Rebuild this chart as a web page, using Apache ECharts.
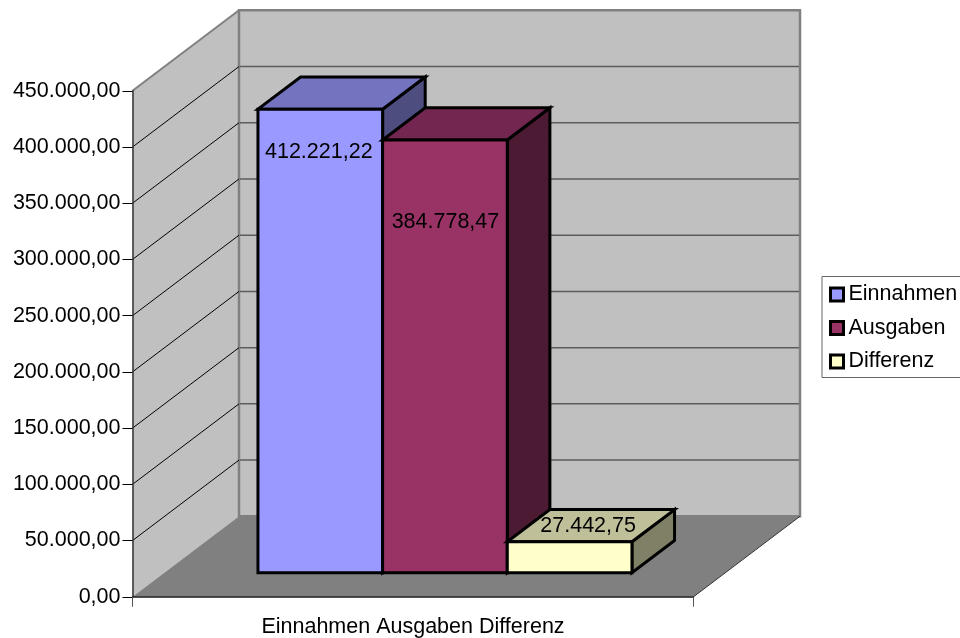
<!DOCTYPE html>
<html>
<head>
<meta charset="utf-8">
<title>Einnahmen Ausgaben Differenz</title>
<style>html,body{margin:0;padding:0;background:#fff}#chart{width:960px;height:638px}</style>
<script src="https://cdn.jsdelivr.net/npm/echarts@6/dist/echarts.min.js"></script>
</head>
<body>
<div id="chart"></div>
<script>
// Chart values
const categories = ['Einnahmen Ausgaben Differenz'];
const seriesNames = ['Einnahmen', 'Ausgaben', 'Differenz'];
const einnahmen = [412221.22];
const ausgaben = [384778.47];
const differenz = [27442.75];
const tickValues = [0, 50000, 100000, 150000, 200000, 250000, 300000, 350000, 400000, 450000];

// Oblique projection of the floor depth, in pixels for a full depth of 1
const DEPTH_X = 106.5;
const DEPTH_Y = -80.5;
const FONT = '"Liberation Sans", Arial, sans-serif';
const FONT_SIZE = 21.5;

// Faces of each box: front, top (75% brightness), side (50% brightness)
const palette = [
  { front: '#9999ff', top: '#7373bf', side: '#4d4d80' },
  { front: '#993366', top: '#732650', side: '#4d1a33' },
  { front: '#ffffcc', top: '#bfbf99', side: '#808066' }
];
// Data label placement relative to the centre of the box's front top edge
const labelOffset = [[-1.5, 42.5], [0.5, 82.5], [18.5, -15.5]];

const deNumber = v => v.toFixed(2).replace('.', ',').replace(/\B(?=(\d{3})+(?!\d))/g, '.');

// Maps (share of the category band, value, share of the depth) to pixels
function projector(api) {
  const band = api.size([1, 0])[0];
  return (u, value, d) => {
    const c = api.coord([0, value]);
    return [c[0] + (u - 0.5) * band + d * DEPTH_X, c[1] + d * DEPTH_Y];
  };
}

function renderBackdrop(params, api) {
  const p = projector(api);
  const top = tickValues[tickValues.length - 1];
  const edge = '#808080';
  const children = [
    { type: 'polygon', shape: { points: [p(0, 0, 0), p(0, top, 0), p(0, top, 1), p(0, 0, 1)] },
      style: { fill: '#c0c0c0' } },
    { type: 'polygon', shape: { points: [p(0, 0, 1), p(0, top, 1), p(1, top, 1), p(1, 0, 1)] },
      style: { fill: '#c0c0c0', stroke: edge, lineWidth: 2.5 } },
    { type: 'line', shape: { x1: p(0, top, 0)[0], y1: p(0, top, 0)[1], x2: p(0, top, 1)[0], y2: p(0, top, 1)[1] },
      style: { stroke: edge, lineWidth: 2 } }
  ];
  tickValues.slice(1, -1).forEach(v => {
    const a = p(0, v, 0), b = p(0, v, 1), c = p(1, v, 1);
    children.push(
      { type: 'line', shape: { x1: a[0], y1: a[1], x2: b[0], y2: b[1] }, style: { stroke: '#000', lineWidth: 1 } },
      { type: 'line', shape: { x1: b[0] + 1, y1: b[1], x2: c[0] - 1, y2: c[1] }, style: { stroke: '#5c5c5c', lineWidth: 1.5 } }
    );
  });
  children.push(
    { type: 'polygon', shape: { points: [p(0, 0, 0), p(1, 0, 0), p(1, 0, 1), p(0, 0, 1)] }, style: { fill: '#808080' } },
    { type: 'line', shape: { x1: p(1, 0, 0)[0], y1: p(1, 0, 0)[1], x2: p(1, 0, 1)[0], y2: p(1, 0, 1)[1] },
      style: { stroke: '#333', lineWidth: 1 } }
  );
  return { type: 'group', children };
}

// One box of the row: 1.5 bar widths of gap at each end, 40% of the depth in the middle
function boxRenderer(index) {
  return function (params, api) {
    const p = projector(api);
    const value = api.value(1);
    const u0 = (0.75 + index) / 4.5;
    const u1 = (1.75 + index) / 4.5;
    const d0 = 0.3, d1 = 0.7;
    const faces = palette[index];
    const border = { stroke: '#000', lineWidth: 3, lineJoin: 'miter' };
    const tl = p(u0, value, d0), tr = p(u1, value, d0), bl = p(u0, 0, d0), br = p(u1, 0, d0);
    const btl = p(u0, value, d1), btr = p(u1, value, d1), bbr = p(u1, 0, d1);
    const off = labelOffset[index];
    return {
      type: 'group',
      children: [
        { type: 'polygon', shape: { points: [tr, btr, bbr, br] }, style: { fill: faces.side, ...border } },
        { type: 'polygon', shape: { points: [tl, btl, btr, tr] }, style: { fill: faces.top, ...border } },
        { type: 'polygon', shape: { points: [tl, tr, br, bl] }, style: { fill: faces.front, ...border } },
        { type: 'text', style: {
            x: (tl[0] + tr[0]) / 2 + off[0], y: tl[1] + off[1],
            text: deNumber(value), fill: '#000', font: FONT_SIZE + 'px ' + FONT,
            align: 'center', verticalAlign: 'middle' } }
      ]
    };
  };
}

const values = [einnahmen, ausgaben, differenz];

const option = {
  animation: false,
  textStyle: { fontFamily: FONT, fontSize: FONT_SIZE, color: '#000' },
  grid: { left: 132.5, top: 90.8, width: 561, height: 506 },
  xAxis: {
    type: 'category',
    data: categories,
    z: 5,
    axisLine: { lineStyle: { color: '#1a1a1a', width: 1.5 } },
    axisTick: { show: true, alignWithLabel: false, length: 10, lineStyle: { color: '#555', width: 1 } },
    axisLabel: { margin: 19, fontFamily: FONT, fontSize: FONT_SIZE, color: '#000' }
  },
  yAxis: {
    type: 'value',
    min: 0,
    max: 450000,
    interval: 50000,
    z: 5,
    splitLine: { show: false },
    axisLine: { show: true, lineStyle: { color: '#333', width: 1.5 } },
    axisTick: { show: true, length: 10, lineStyle: { color: '#000', width: 1 } },
    axisLabel: { margin: 12, formatter: deNumber, fontFamily: FONT, fontSize: FONT_SIZE, color: '#000' }
  },
  legend: {
    orient: 'vertical',
    left: 822,
    top: 276.5,
    padding: [6, 12, 4, 7],
    itemGap: 9.5,
    itemWidth: 13,
    itemHeight: 13,
    icon: 'rect',
    borderColor: '#666',
    borderWidth: 1,
    textStyle: { fontFamily: FONT, fontSize: FONT_SIZE, color: '#000', padding: [0, 0, 0, 0], lineHeight: 24 },
    selectedMode: false,
    data: seriesNames.map((name, i) => ({
      name,
      itemStyle: { color: palette[i].front, borderColor: '#000', borderWidth: 3 }
    }))
  },
  series: [
    { type: 'custom', name: 'Rückwand', silent: true, z: 1, renderItem: renderBackdrop, data: [[0, 0]] },
    ...seriesNames.map((name, i) => ({
      type: 'custom',
      name,
      silent: true,
      z: 2,
      itemStyle: { color: palette[i].front },
      renderItem: boxRenderer(i),
      data: [[0, values[i][0]]]
    }))
  ]
};

echarts.init(document.getElementById('chart'), null, { renderer: 'canvas' }).setOption(option);
</script>
</body>
</html>
